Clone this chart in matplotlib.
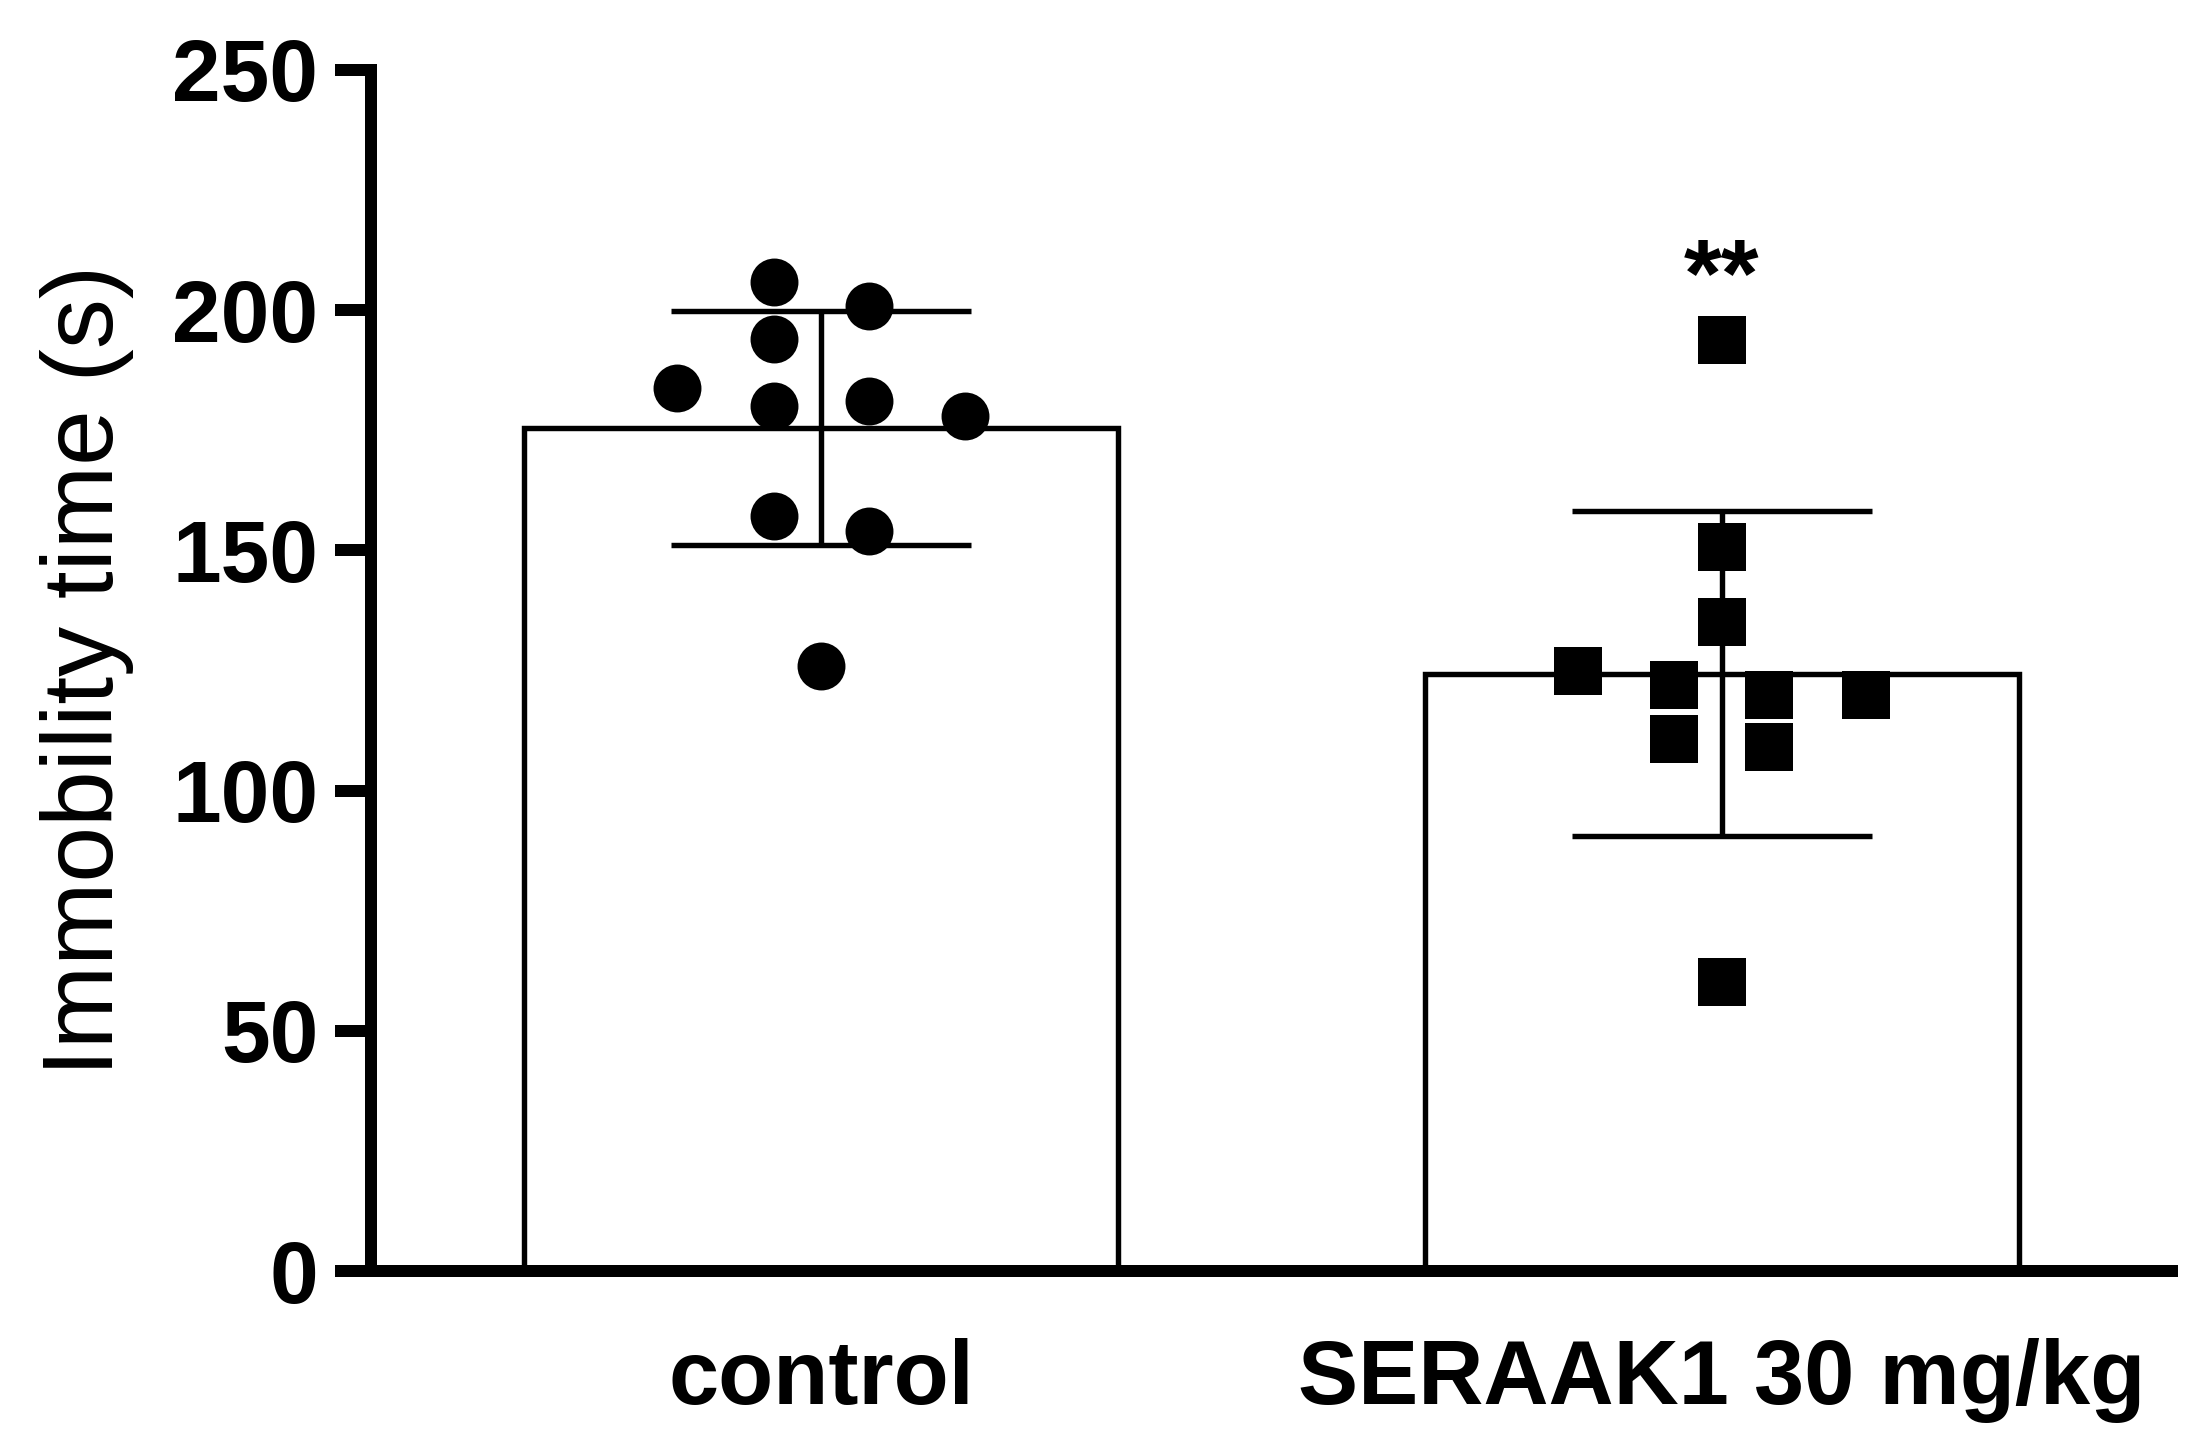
import matplotlib
matplotlib.use('Agg')
import matplotlib.pyplot as plt
import numpy as np

# ---- data ----
categories = ['control', 'SERAAK1 30 mg/kg']
bar_means = [175.5, 124.3]
bar_sds = [24.3, 33.8]
control_values = [205.8, 194.0, 180.1, 157.2, 200.8, 181.0, 154.0, 183.9, 177.9, 125.9]
seraak_values = [193.9, 150.8, 135.0, 60.1, 121.9, 110.8, 120.0, 109.0, 125.0, 120.0]
yticks = [0, 50, 100, 150, 200, 250]
significance = '**'

# ---- layout (horizontal spread of the dots) ----
control_jitter = [-0.053, -0.053, -0.053, -0.053, 0.053, 0.053, 0.053, -0.16, 0.16, 0.0]
seraak_jitter = [0.0, 0.0, 0.0, 0.0, -0.053, -0.053, 0.053, 0.053, -0.16, 0.16]

plt.rcParams['font.family'] = ['Liberation Sans', 'DejaVu Sans']

W, H = 2202, 1449
fig = plt.figure(figsize=(W / 100, H / 100), dpi=100)
left, right, bottom, top = 371, 2172, 1271, 70
ax = fig.add_axes([left / W, 1 - bottom / H, (right - left) / W, (bottom - top) / H])

x = np.arange(len(categories))
ax.bar(x, bar_means, width=0.66, color='white', edgecolor='black', linewidth=3.9, zorder=1)
ax.errorbar(x, bar_means, yerr=bar_sds, fmt='none', ecolor='black', elinewidth=3.9,
            capsize=108, capthick=3.9, zorder=2)
ax.plot(x[0] + np.array(control_jitter), control_values, 'o', ms=34.5, color='black',
        mew=0, zorder=3, clip_on=False)
ax.plot(x[1] + np.array(seraak_jitter), seraak_values, 's', ms=35, color='black',
        mew=0, zorder=3, clip_on=False)

ax.text(x[1], 200.8, significance, ha='center', va='baseline', fontsize=70, fontweight='bold')

ax.set_xlim(-0.5, 1.5)
ax.set_ylim(0, 250)
ax.set_yticks(yticks)
ax.set_yticklabels([str(t) for t in yticks])
ax.set_xticks(x)
ax.set_xticklabels(categories)

for s in ['top', 'right']:
    ax.spines[s].set_visible(False)
for s in ['left', 'bottom']:
    ax.spines[s].set_linewidth(8.64)
    ax.spines[s].set_capstyle('projecting')

ax.tick_params(axis='y', length=26, width=8.64, pad=12, labelsize=63)
ax.tick_params(axis='x', length=0, pad=48, labelsize=65)
for lab in ax.get_yticklabels() + ax.get_xticklabels():
    lab.set_fontweight('bold')

ax.set_ylabel('Immobility time (s)', fontsize=72)
ax.yaxis.set_label_coords(-0.1316, 0.5)

fig.savefig('out.png', dpi=100, facecolor='white')
